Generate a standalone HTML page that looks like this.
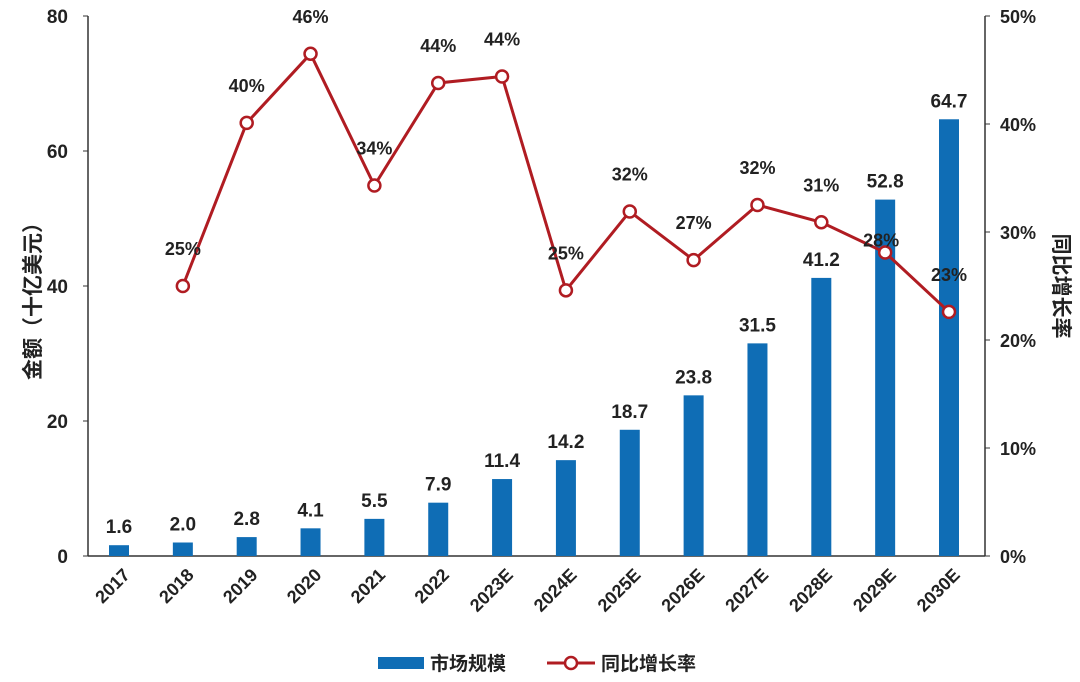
<!DOCTYPE html>
<html><head><meta charset="utf-8"><style>
body{margin:0;background:#fff;}
svg{display:block;font-family:"Liberation Sans","Noto Sans CJK SC",sans-serif;}
</style></head><body>
<svg id="chart" width="1080" height="682"></svg>
<script>
const categories=["2017","2018","2019","2020","2021","2022","2023E","2024E","2025E","2026E","2027E","2028E","2029E","2030E"];
const marketSize=[1.6,2.0,2.8,4.1,5.5,7.9,11.4,14.2,18.7,23.8,31.5,41.2,52.8,64.7];
const growth=[null,25,40,46,34,44,44,25,32,27,32,31,28,23];
const growthExact=[null,25,40.1,46.5,34.3,43.8,44.4,24.6,31.9,27.4,32.5,30.9,28.1,22.6];
const leftTicks=[0,20,40,60,80];
const rightTicks=[0,10,20,30,40,50];
const NS="http://www.w3.org/2000/svg";
const svg=document.getElementById('chart');
const x0=88,x1=985,yb=556,yt=16;
const yL=v=>yb-(v/80)*(yb-yt);
const yR=v=>yb-(v/50)*(yb-yt);
const xC=i=>119+i*((949-119)/13);
function el(t,a,txt){const e=document.createElementNS(NS,t);for(const k in a)e.setAttribute(k,a[k]);if(txt!=null)e.textContent=txt;svg.appendChild(e);return e;}
let e;
e=el('line',{x1:x0,y1:yt,x2:x0,y2:yb,stroke:'#333','stroke-width':1.5});

e=el('line',{x1:x1,y1:yt,x2:x1,y2:yb,stroke:'#333','stroke-width':1.5});

e=el('line',{x1:x0,y1:yb,x2:x1,y2:yb,stroke:'#333','stroke-width':1.5});

leftTicks.forEach(v=>{
 e=el('text',{x:68,y:yL(v)+7,'text-anchor':'end','font-size':19,'font-weight':'bold',fill:'#222'},String(v));
 
 el('line',{x1:x0-5,y1:yL(v),x2:x0,y2:yL(v),stroke:'#333'});
});
rightTicks.forEach(v=>{
 e=el('text',{x:1000,y:yR(v)+7,'font-size':18,'font-weight':'bold',fill:'#222'},v+'%');
 
 el('line',{x1:x1,y1:yR(v),x2:x1+5,y2:yR(v),stroke:'#333'});
});
e=el('text',{x:0,y:0,'font-size':21,'font-weight':'bold',fill:'#222','text-anchor':'middle',transform:'translate(40,296) rotate(-90)'},'金额（十亿美元）');

e=el('text',{x:0,y:0,'font-size':21,'font-weight':'bold',fill:'#222','text-anchor':'middle',transform:'translate(1054,286) rotate(90)'},'同比增长率');

categories.forEach((c,i)=>{
 const h=yb-yL(marketSize[i]);
 e=el('rect',{x:xC(i)-10,y:yL(marketSize[i]),width:20,height:h,fill:'#0f6db5'});
 
 e=el('text',{x:xC(i),y:yL(marketSize[i])-12,'text-anchor':'middle','font-size':19,'font-weight':'bold',fill:'#222'},marketSize[i].toFixed(1));
 
 e=el('text',{x:0,y:0,'text-anchor':'end','font-size':18,'font-weight':'bold',fill:'#222',transform:`translate(${xC(i)+12},${yb+20}) rotate(-45)`},c);
 
});
let pts=[];
growthExact.forEach((g,i)=>{if(g!=null)pts.push([xC(i),yR(g)]);});
e=el('polyline',{points:pts.map(p=>p.join(',')).join(' '),fill:'none',stroke:'#b01c22','stroke-width':3});

growthExact.forEach((g,i)=>{
 if(g==null)return;
 e=el('circle',{cx:xC(i),cy:yR(g),r:6,fill:'#fff',stroke:'#b01c22','stroke-width':2.5});
 
 const off=(i===12)?6:31;
 e=el('text',{x:xC(i)-(i===12?4:0),y:yR(g)-off,'text-anchor':'middle','font-size':18,'font-weight':'bold',fill:'#222'},growth[i]+'%');
 
});
e=el('rect',{x:378,y:657,width:46,height:12,fill:'#0f6db5'});

e=el('text',{x:430,y:670,'font-size':19,'font-weight':'bold',fill:'#222'},'市场规模');

e=el('line',{x1:547,y1:663,x2:595,y2:663,stroke:'#b01c22','stroke-width':3});

e=el('circle',{cx:571,cy:663,r:6,fill:'#fff',stroke:'#b01c22','stroke-width':2.5});

e=el('text',{x:601,y:670,'font-size':19,'font-weight':'bold',fill:'#222'},'同比增长率');

</script>
</body></html>
